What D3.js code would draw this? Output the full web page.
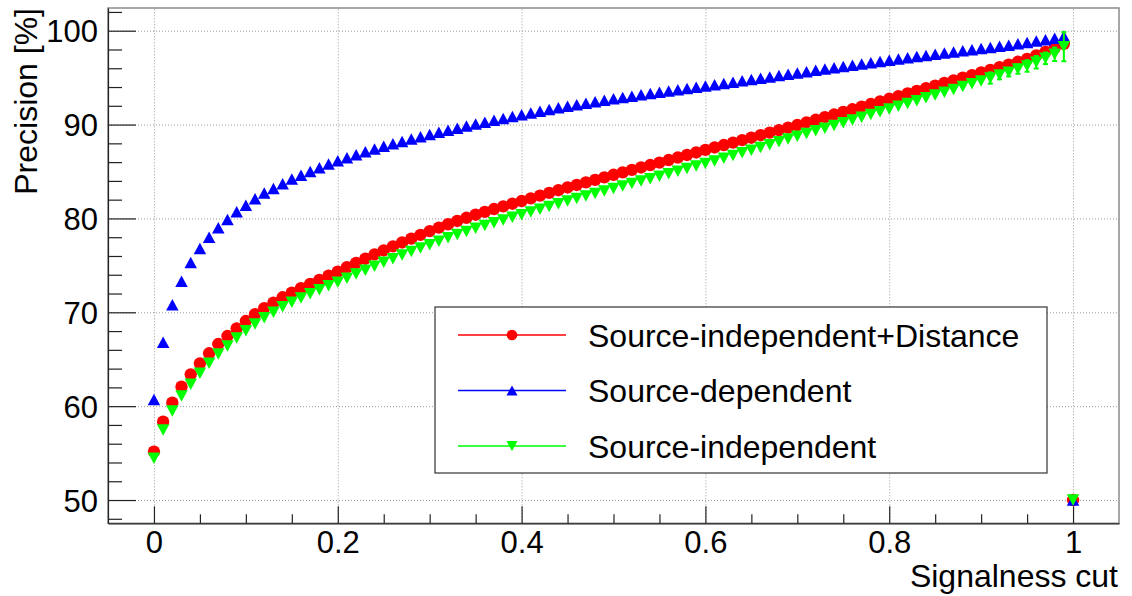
<!DOCTYPE html>
<html>
<head>
<meta charset="utf-8">
<script src="https://cdn.jsdelivr.net/npm/d3@7/dist/d3.min.js"></script>
<style>
  html, body { margin: 0; padding: 0; background: #fff; }
  svg { display: block; font-family: "Liberation Sans", Arial, Helvetica, sans-serif; }
</style>
</head>
<body>
<svg id="chart" width="1132" height="596"></svg>
<script>
// Signalness cut values (x)
const cuts = [
  0.00, 0.01, 0.02, 0.03, 0.04, 0.05, 0.06, 0.07, 0.08, 0.09,
  0.10, 0.11, 0.12, 0.13, 0.14, 0.15, 0.16, 0.17, 0.18, 0.19,
  0.20, 0.21, 0.22, 0.23, 0.24, 0.25, 0.26, 0.27, 0.28, 0.29,
  0.30, 0.31, 0.32, 0.33, 0.34, 0.35, 0.36, 0.37, 0.38, 0.39,
  0.40, 0.41, 0.42, 0.43, 0.44, 0.45, 0.46, 0.47, 0.48, 0.49,
  0.50, 0.51, 0.52, 0.53, 0.54, 0.55, 0.56, 0.57, 0.58, 0.59,
  0.60, 0.61, 0.62, 0.63, 0.64, 0.65, 0.66, 0.67, 0.68, 0.69,
  0.70, 0.71, 0.72, 0.73, 0.74, 0.75, 0.76, 0.77, 0.78, 0.79,
  0.80, 0.81, 0.82, 0.83, 0.84, 0.85, 0.86, 0.87, 0.88, 0.89,
  0.90, 0.91, 0.92, 0.93, 0.94, 0.95, 0.96, 0.97, 0.98, 0.99,
  1.00
];

// Precision [%] — Source-independent+Distance
const precDistance = [
  55.15, 58.34, 60.37, 62.07, 63.39, 64.56, 65.63, 66.62, 67.47, 68.29,
  69.07, 69.80, 70.45, 71.03, 71.60, 72.10, 72.57, 73.02, 73.45, 73.90,
  74.33, 74.80, 75.26, 75.71, 76.16, 76.60, 77.02, 77.44, 77.85, 78.25,
  78.65, 79.02, 79.38, 79.73, 80.07, 80.40, 80.70, 81.00, 81.29, 81.57,
  81.85, 82.14, 82.43, 82.72, 83.01, 83.30, 83.57, 83.84, 84.11, 84.38,
  84.65, 84.91, 85.17, 85.43, 85.69, 85.95, 86.22, 86.49, 86.76, 87.03,
  87.30, 87.56, 87.82, 88.08, 88.34, 88.60, 88.87, 89.14, 89.41, 89.68,
  89.95, 90.23, 90.51, 90.79, 91.07, 91.35, 91.63, 91.91, 92.19, 92.47,
  92.75, 93.03, 93.31, 93.59, 93.87, 94.15, 94.43, 94.71, 94.99, 95.27,
  95.55, 95.83, 96.11, 96.39, 96.69, 97.00, 97.36, 97.75, 98.15, 98.60,
  50.00
];

// Precision [%] — Source-dependent
const precDependent = [
  60.70, 66.80, 70.80, 73.30, 75.30, 76.80, 78.00, 79.00, 79.90, 80.70,
  81.40, 82.10, 82.70, 83.20, 83.70, 84.20, 84.60, 85.00, 85.40, 85.80,
  86.15, 86.47, 86.78, 87.10, 87.40, 87.70, 87.96, 88.21, 88.46, 88.70,
  88.95, 89.18, 89.40, 89.62, 89.84, 90.05, 90.25, 90.46, 90.66, 90.86,
  91.05, 91.23, 91.42, 91.60, 91.78, 91.95, 92.11, 92.28, 92.44, 92.60,
  92.75, 92.89, 93.03, 93.17, 93.31, 93.45, 93.58, 93.71, 93.84, 93.97,
  94.10, 94.24, 94.38, 94.52, 94.66, 94.80, 94.94, 95.08, 95.22, 95.36,
  95.50, 95.64, 95.78, 95.92, 96.06, 96.20, 96.33, 96.46, 96.59, 96.72,
  96.85, 96.98, 97.11, 97.24, 97.37, 97.50, 97.62, 97.74, 97.86, 97.98,
  98.10, 98.22, 98.34, 98.46, 98.60, 98.75, 98.90, 99.05, 99.20, 99.40,
  50.00
];

// Precision [%] — Source-independent
const precIndependent = [
  54.45, 57.46, 59.48, 61.08, 62.33, 63.50, 64.56, 65.55, 66.40, 67.26,
  68.04, 68.75, 69.42, 70.00, 70.58, 71.06, 71.53, 71.98, 72.40, 72.82,
  73.20, 73.64, 74.07, 74.49, 74.91, 75.32, 75.71, 76.10, 76.47, 76.84,
  77.20, 77.57, 77.93, 78.28, 78.62, 78.95, 79.25, 79.55, 79.84, 80.12,
  80.40, 80.69, 80.98, 81.27, 81.56, 81.85, 82.12, 82.39, 82.66, 82.93,
  83.20, 83.46, 83.72, 83.98, 84.24, 84.50, 84.77, 85.04, 85.31, 85.58,
  85.85, 86.13, 86.42, 86.70, 86.99, 87.27, 87.57, 87.86, 88.16, 88.45,
  88.75, 89.04, 89.33, 89.62, 89.91, 90.20, 90.49, 90.78, 91.07, 91.36,
  91.65, 91.95, 92.25, 92.55, 92.85, 93.15, 93.45, 93.75, 94.05, 94.35,
  94.65, 94.96, 95.27, 95.58, 95.91, 96.25, 96.64, 97.06, 97.49, 98.30,
  50.00
];

// Statistical errors on the Source-independent points at the tightest cuts
const errCuts = [0.91, 0.92, 0.93, 0.94, 0.95, 0.96, 0.97, 0.98, 0.99];
const errIndependent = [0.60, 0.45, 0.45, 0.50, 0.62, 0.67, 0.62, 0.72, 1.55];

// Axis ranges and tick labels
const xDomain = [-0.05, 1.05];
const yDomain = [47.52, 102.42];
const xMajor = [0, 0.2, 0.4, 0.6, 0.8, 1];
const xTickLabels = ["0", "0.2", "0.4", "0.6", "0.8", "1"];
const xMinor = [0.05, 0.1, 0.15, 0.25, 0.3, 0.35, 0.45, 0.5, 0.55, 0.65, 0.7, 0.75, 0.85, 0.9, 0.95];
const yMajor = [50, 60, 70, 80, 90, 100];
const yTickLabels = ["50", "60", "70", "80", "90", "100"];
const yMinor = [48, 52, 54, 56, 58, 62, 64, 66, 68, 72, 74, 76, 78, 82, 84, 86, 88, 92, 94, 96, 98, 102];

const seriesNames = ["Source-independent+Distance", "Source-dependent", "Source-independent"];
const seriesColors = ["#ff0000", "#0000ff", "#00ff00"];

// ---------------------------------------------------------------
const svg = d3.select("#chart");
const frame = { left: 108, top: 8, right: 1119, bottom: 523.3 };

svg.append("rect").attr("width", 1132).attr("height", 596).attr("fill", "#fff");

const x = d3.scaleLinear().domain(xDomain).range([frame.left, frame.right]);
const y = d3.scaleLinear().domain(yDomain).range([frame.bottom, frame.top]);

// Grid (dotted)
const gridX = svg.append("g")
  .attr("transform", `translate(0,${frame.bottom})`)
  .call(d3.axisBottom(x).tickValues(xMajor).tickSize(-(frame.bottom - frame.top)).tickFormat(""));
const gridY = svg.append("g")
  .attr("transform", `translate(${frame.left},0)`)
  .call(d3.axisLeft(y).tickValues(yMajor).tickSize(-(frame.right - frame.left)).tickFormat(""));
[gridX, gridY].forEach(g => {
  g.select(".domain").remove();
  g.selectAll("line").attr("stroke", "#9a9a9a").attr("stroke-width", 1).attr("stroke-dasharray", "1,2");
});

// Frame
svg.append("rect")
  .attr("x", frame.left).attr("y", frame.top)
  .attr("width", frame.right - frame.left).attr("height", frame.bottom - frame.top)
  .attr("fill", "none").attr("stroke", "#8a8a8a").attr("stroke-width", 1.5);

// Axes: major ticks with labels
const xAxis = svg.append("g")
  .attr("transform", `translate(0,${frame.bottom})`)
  .call(d3.axisBottom(x).tickValues(xMajor).tickSizeInner(-17).tickSizeOuter(0).tickPadding(8)
    .tickFormat((d, i) => xTickLabels[i]));
const yAxis = svg.append("g")
  .attr("transform", `translate(${frame.left},0)`)
  .call(d3.axisLeft(y).tickValues(yMajor).tickSizeInner(-28).tickSizeOuter(0).tickPadding(10)
    .tickFormat((d, i) => yTickLabels[i]));
// Minor ticks
const xAxisMinor = svg.append("g")
  .attr("transform", `translate(0,${frame.bottom})`)
  .call(d3.axisBottom(x).tickValues(xMinor).tickSizeInner(-9).tickSizeOuter(0).tickFormat(""));
const yAxisMinor = svg.append("g")
  .attr("transform", `translate(${frame.left},0)`)
  .call(d3.axisLeft(y).tickValues(yMinor).tickSizeInner(-14).tickSizeOuter(0).tickFormat(""));
[xAxisMinor, yAxisMinor].forEach(g => g.select(".domain").remove());
[xAxis, yAxis, xAxisMinor, yAxisMinor].forEach(g => {
  g.selectAll("line").attr("stroke", "#222").attr("stroke-width", 1.2);
  g.select(".domain").attr("stroke", "#222").attr("stroke-width", 1.2);
  g.selectAll("text").attr("fill", "#000").attr("font-size", 31)
    .attr("font-family", "'Liberation Sans', Arial, Helvetica, sans-serif");
});
yAxis.selectAll("text").attr("dy", "0.36em");

// Axis titles
svg.append("text")
  .attr("x", 1118).attr("y", 587)
  .attr("text-anchor", "end").attr("font-size", 32).attr("fill", "#000")
  .text("Signalness cut");
svg.append("text")
  .attr("transform", "translate(37,8) rotate(-90)")
  .attr("text-anchor", "end").attr("font-size", 32).attr("fill", "#000")
  .text("Precision [%]");

// Marker shapes
const triangleUp = {
  draw(ctx, size) {
    const s = Math.sqrt(size) / 2;
    ctx.moveTo(0, -s * 0.92);
    ctx.lineTo(s, s * 0.92);
    ctx.lineTo(-s, s * 0.92);
    ctx.closePath();
  }
};
const triangleDown = {
  draw(ctx, size) {
    const s = Math.sqrt(size) / 2;
    ctx.moveTo(0, s * 0.92);
    ctx.lineTo(s, -s * 0.92);
    ctx.lineTo(-s, -s * 0.92);
    ctx.closePath();
  }
};
const markerShapes = [
  d3.symbol().type(d3.symbolCircle).size(Math.PI * 6.2 * 6.2),
  d3.symbol().type(triangleUp).size(12.5 * 12.5),
  d3.symbol().type(triangleDown).size(12.5 * 12.5)
];
const legendShapes = [
  d3.symbol().type(d3.symbolCircle).size(Math.PI * 5.3 * 5.3),
  d3.symbol().type(triangleUp).size(11 * 11),
  d3.symbol().type(triangleDown).size(11 * 11)
];

const seriesValues = [precDistance, precDependent, precIndependent];

const plot = svg.append("g");
seriesValues.forEach((vals, k) => {
  const g = plot.append("g");
  if (k === 2) {
    // error bars with small end caps
    const eb = g.selectAll("g.err").data(errCuts).join("g").attr("class", "err");
    const yOf = c => precIndependent[cuts.indexOf(c)];
    eb.append("line")
      .attr("x1", d => x(d)).attr("x2", d => x(d))
      .attr("y1", (d, i) => y(yOf(d) + errIndependent[i]))
      .attr("y2", (d, i) => y(yOf(d) - errIndependent[i]))
      .attr("stroke", seriesColors[k]).attr("stroke-width", 2);
    [1, -1].forEach(sgn => {
      eb.append("line")
        .attr("x1", d => x(d) - 2.5).attr("x2", d => x(d) + 2.5)
        .attr("y1", (d, i) => y(yOf(d) + sgn * errIndependent[i]))
        .attr("y2", (d, i) => y(yOf(d) + sgn * errIndependent[i]))
        .attr("stroke", seriesColors[k]).attr("stroke-width", 2);
    });
  }
  g.selectAll("path.pt").data(cuts).join("path")
    .attr("class", "pt")
    .attr("d", markerShapes[k])
    .attr("transform", (d, i) => `translate(${x(d)},${y(vals[i])})`)
    .attr("fill", seriesColors[k]);
});

// Legend
const legend = svg.append("g");
legend.append("rect")
  .attr("x", 435).attr("y", 307).attr("width", 612).attr("height", 166)
  .attr("fill", "#fff").attr("stroke", "#333").attr("stroke-width", 1.2);
const rowsY = [335, 390.5, 446];
seriesNames.forEach((name, k) => {
  const row = legend.append("g").attr("transform", `translate(0,${rowsY[k]})`);
  row.append("line").attr("x1", 458).attr("x2", 566).attr("y1", 0).attr("y2", 0)
    .attr("stroke", seriesColors[k]).attr("stroke-width", 1.6);
  row.append("path").attr("d", legendShapes[k]).attr("transform", "translate(512,0)")
    .attr("fill", seriesColors[k]);
  row.append("text").attr("x", 588).attr("y", 11.5)
    .attr("font-size", 32).attr("fill", "#000").text(name);
});
</script>
</body>
</html>
